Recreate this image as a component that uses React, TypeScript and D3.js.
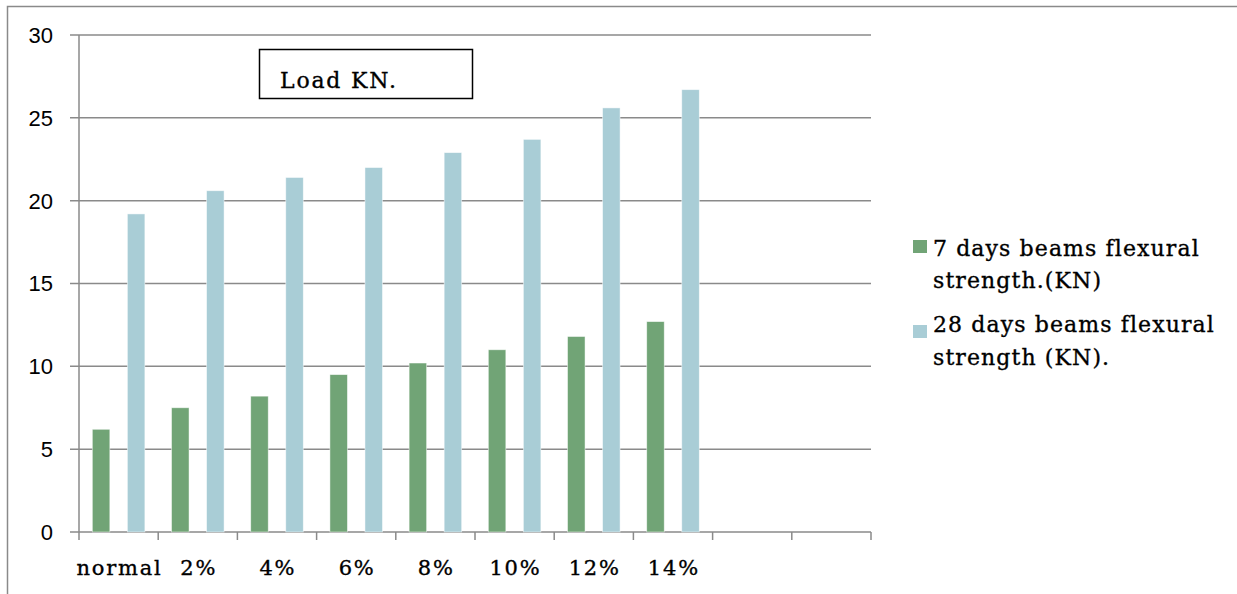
import React, { useEffect, useRef } from 'react';
import * as d3 from 'd3';

const categories = ['normal', '2%', '4%', '6%', '8%', '10%', '12%', '14%', '', ''];
const days7 = [6.2, 7.5, 8.2, 9.5, 10.2, 11.0, 11.8, 12.7];
const days28 = [19.2, 20.6, 21.4, 22.0, 22.9, 23.7, 25.6, 26.7];
const yTicks = [0, 5, 10, 15, 20, 25, 30];
const seriesNames = ['7 days beams flexural strength.(KN)', '28 days beams flexural strength (KN).'];
const legendLines = [
  ['7 days beams flexural', 'strength.(KN)'],
  ['28 days beams flexural', 'strength (KN).'],
];
const colors = ['#71a476', '#a9cdd6'];

const W = 1237;
const H = 594;
const SERIF = '"DejaVu Serif", serif';
const SANS = '"Liberation Sans", Arial, sans-serif';

export default function App() {
  const svgRef = useRef<SVGSVGElement>(null);

  useEffect(() => {
    if (!svgRef.current) return;
    const svg = d3.select(svgRef.current);
    svg.selectAll('*').remove();

    const left = 79, right = 871, top = 35, bottom = 532;
    const grid = '#8a8a8a';

    // outer frame: only left and top edges are visible
    svg.append('path')
      .attr('d', `M7.5,${H} V6.5 H${W}`)
      .attr('fill', 'none').attr('stroke', grid).attr('stroke-width', 1.5);

    const keys = categories.map((c, i) => `${i}`);
    const x0 = d3.scaleBand<string>().domain(keys).range([left, right]).padding(0);
    const x1 = d3.scaleBand<number>().domain([0, 1]).range([0, x0.bandwidth()])
      .paddingInner(0.5).paddingOuter(0.38);
    const y = d3.scaleLinear().domain([0, 30]).range([bottom, top]);

    // gridlines + y ticks
    svg.append('g').selectAll('line').data(yTicks).enter().append('line')
      .attr('x1', left - 9).attr('x2', right)
      .attr('y1', d => y(d)).attr('y2', d => y(d))
      .attr('stroke', grid).attr('stroke-width', 1.5);

    svg.append('g').selectAll('text').data(yTicks).enter().append('text')
      .attr('x', 53).attr('y', d => y(d)).attr('dy', '0.36em')
      .attr('text-anchor', 'end')
      .style('font-family', SANS).style('font-size', '22px').attr('fill', '#000')
      .text(d => d);

    // y axis line
    svg.append('line')
      .attr('x1', left).attr('x2', left).attr('y1', top).attr('y2', bottom)
      .attr('stroke', grid).attr('stroke-width', 1.5);

    // x tick marks at slot boundaries
    const bounds = keys.map(k => x0(k) as number).concat([right]);
    svg.append('g').selectAll('line').data(bounds).enter().append('line')
      .attr('x1', d => d).attr('x2', d => d).attr('y1', bottom).attr('y2', bottom + 8)
      .attr('stroke', grid).attr('stroke-width', 1.5);

    // bars
    const seriesData = [days7, days28];
    seriesData.forEach((vals, s) => {
      svg.append('g').selectAll('rect').data(vals).enter().append('rect')
        .attr('x', (d, i) => (x0(keys[i]) as number) + (x1(s) as number))
        .attr('width', x1.bandwidth())
        .attr('y', d => y(d))
        .attr('height', d => bottom - y(d))
        .attr('fill', colors[s])
        .attr('stroke', 'rgba(255,255,255,0.6)').attr('stroke-width', 0.8)
        .append('title').text(d => `${seriesNames[s]}: ${d}`);
    });

    const serifText = (sel: any, size: number, spacing: number) =>
      sel.style('font-family', SERIF).style('font-size', `${size}px`)
        .style('letter-spacing', `${spacing}px`)
        .attr('fill', '#000').attr('stroke', '#000').attr('stroke-width', 0.35);

    // x labels
    serifText(
      svg.append('g').selectAll('text').data(categories).enter().append('text')
        .attr('x', (d, i) => (x0(keys[i]) as number) + x0.bandwidth() / 2 + 0.9)
        .attr('y', 575)
        .attr('text-anchor', 'middle')
        .text(d => d),
      21, 1.8
    );

    // title box
    svg.append('rect')
      .attr('x', 259.5).attr('y', 49.5).attr('width', 213).attr('height', 49)
      .attr('fill', '#fff').attr('stroke', '#000').attr('stroke-width', 1.5);
    serifText(
      svg.append('text').attr('x', 280).attr('y', 88).text('Load KN.'),
      22, 1.8
    );

    // legend
    const squareY = [240, 325];
    const textY = [[256, 288], [332, 365]];
    legendLines.forEach((lines, s) => {
      svg.append('rect')
        .attr('x', 913).attr('y', squareY[s]).attr('width', 14).attr('height', 13)
        .attr('fill', colors[s]);
      lines.forEach((ln, j) => {
        serifText(
          svg.append('text').attr('x', 933).attr('y', textY[s][j]).text(ln),
          22, 1.1
        );
      });
    });
  }, []);

  return (
    <svg
      ref={svgRef}
      width={W}
      height={H}
      style={{ position: 'fixed', left: 0, top: 0, background: '#fff' }}
    />
  );
}
